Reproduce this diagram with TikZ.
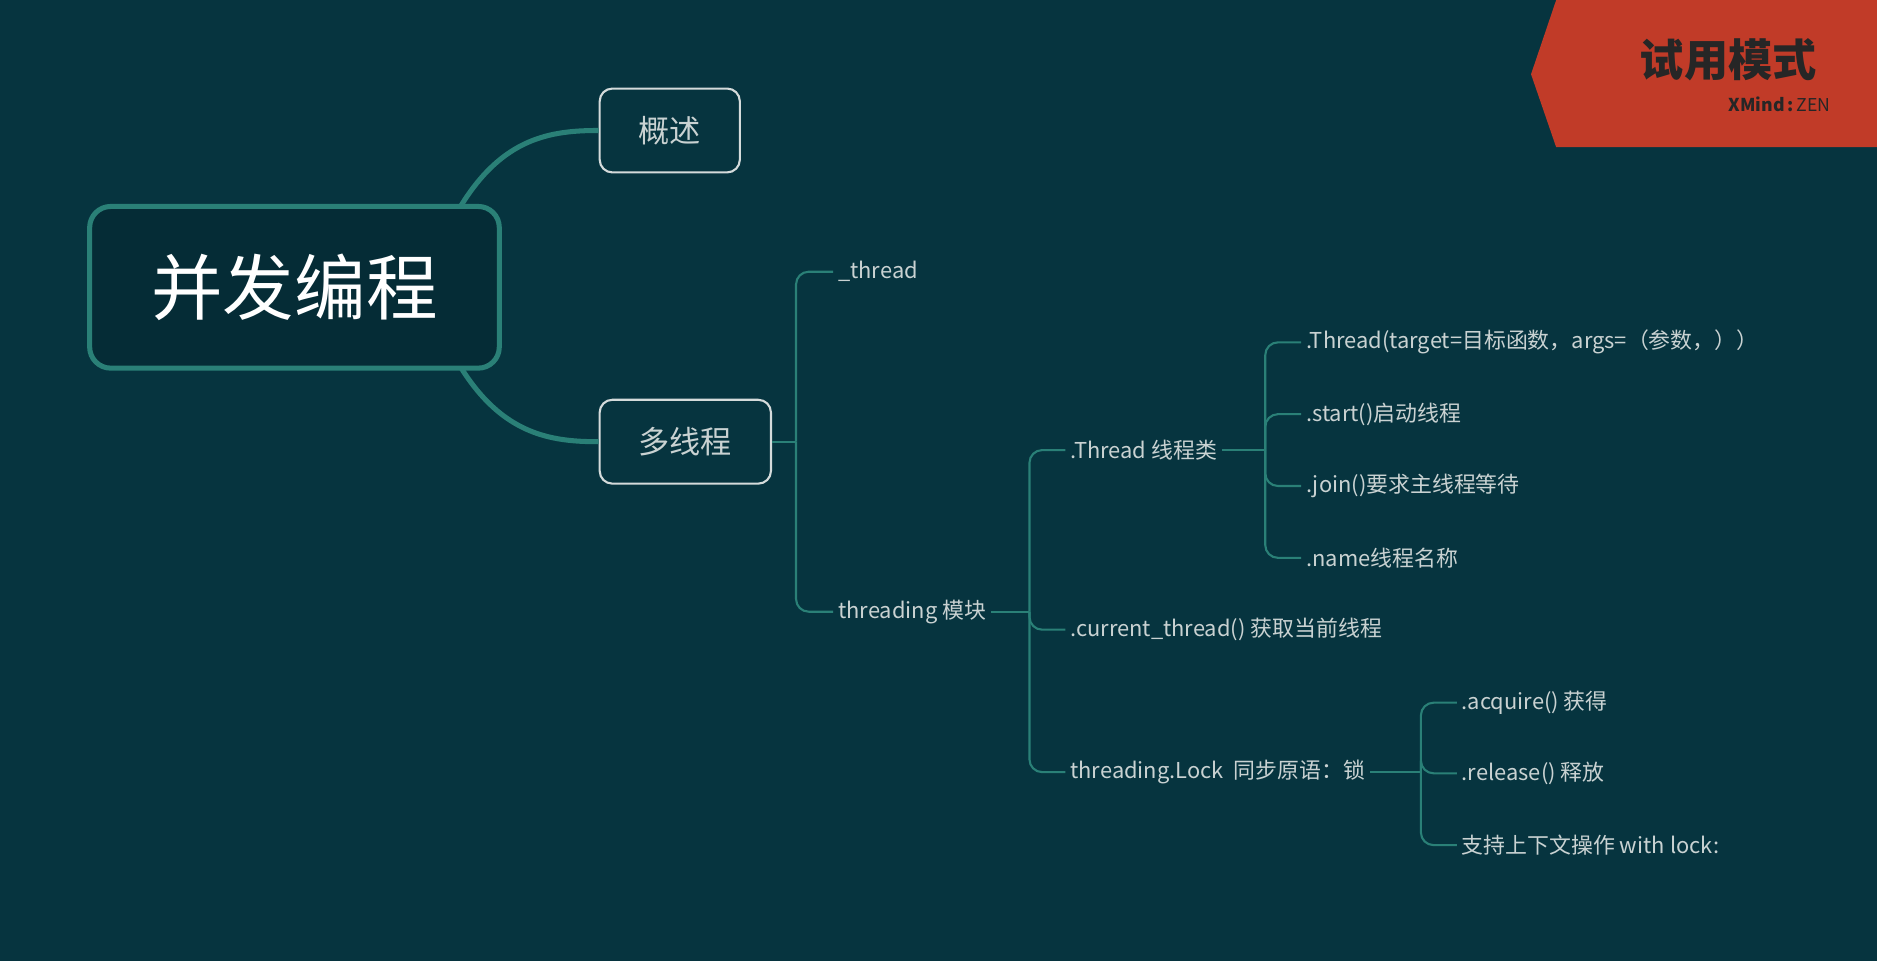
\documentclass[tikz,border=0pt]{standalone}
\usepackage{fontspec}
\setmainfont{Noto Sans CJK SC}
\usetikzlibrary{positioning}
\definecolor{bgc}{HTML}{06343F}
\definecolor{teal}{HTML}{2A8077}
\definecolor{txt}{HTML}{C9D2D2}
\definecolor{wm}{HTML}{C13B28}
\tikzset{
  topic/.style={draw=txt!80, rounded corners=3pt, line width=0.5pt, text=txt,
    font=\fontsize{7.4}{8}\selectfont, minimum height=0.7cm},
  leaf/.style={anchor=west, inner sep=1pt, text=txt, font=\fontsize{5.2}{6}\selectfont},
  branch/.style={draw=teal, line width=0.5pt, rounded corners=3pt},
  mainline/.style={draw=teal, line width=1.2pt}
}
\begin{document}
\begin{tikzpicture}[x=0.01cm,y=-0.01cm]
\fill[bgc] (0,0) rectangle (1568,803);
\useasboundingbox (0,0) rectangle (1568,803);
% watermark
\fill[wm] (1300,0) -- (1568,0) -- (1568,123) -- (1300,123) -- (1279,62) -- cycle;
\node[anchor=east, text=black!85, font=\fontsize{10.5}{11}\bfseries] (wmtitle) at (1530,50) {试用模式};
\node[anchor=east, text=black!85, font=\fontsize{4.2}{5}\bfseries, inner sep=0pt] (wmbrand) at (1530,87) {XMind\,:\,\textmd{ZEN}};
% root
\node[draw=teal, line width=1.2pt, rounded corners=5pt, fill=bgc!85!black, minimum width=3.42cm,
  minimum height=1.35cm, text=white, font=\fontsize{17}{18}\selectfont] (root) at (246,240) {并发编程};
\node[topic, minimum width=1.17cm] (intro) at (559.5,109) {概述};
\node[topic, minimum width=1.43cm] (multi) at (572.5,369) {多线程};
\draw[mainline] (385,172) .. controls (420,115) and (460,109) .. (intro.west);
\draw[mainline] (385,307) .. controls (420,363) and (460,369) .. (multi.west);
% level 2
\node[leaf] (rawthread) at (696,227) {\_thread};
\node[leaf] (threading) at (696,511) {threading 模块};
\coordinate (j1) at (665,369);
\draw[branch] (multi.east) -- (j1);
\foreach \c in {rawthread,threading}
  \draw[branch] (j1) |- (\c.west);
% level 3
\node[leaf] (threadcls) at (890,376) {.Thread 线程类};
\node[leaf] (current) at (890,526) {.current\_thread() 获取当前线程};
\node[leaf] (lock) at (890,645) {threading.Lock\ \ 同步原语：锁};
\coordinate (j2) at (860,511);
\draw[branch] (threading.east) -- (j2);
\foreach \c in {threadcls,current,lock}
  \draw[branch] (j2) |- (\c.west);
% level 4
\node[leaf] (ctor) at (1087,286) {.Thread(target=目标函数，args=（参数，））};
\node[leaf] (start) at (1087,346) {.start()启动线程};
\node[leaf] (join) at (1087,406) {.join()要求主线程等待};
\node[leaf] (name) at (1087,466) {.name线程名称};
\coordinate (j3) at (1057,376);
\draw[branch] (threadcls.east) -- (j3);
\foreach \c in {ctor,start,join,name}
  \draw[branch] (j3) |- (\c.west);
\node[leaf] (acquire) at (1217,587) {.acquire() 获得};
\node[leaf] (release) at (1217,646) {.release() 释放};
\node[leaf] (withlock) at (1217,706) {支持上下文操作 with lock:};
\coordinate (j4) at (1187,645);
\draw[branch] (lock.east) -- (j4);
\foreach \c in {acquire,release,withlock}
  \draw[branch] (j4) |- (\c.west);
\end{tikzpicture}
\end{document}
